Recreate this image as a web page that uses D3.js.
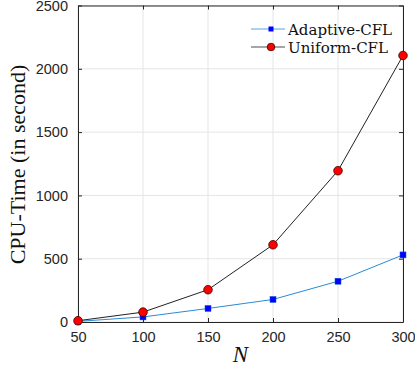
<!DOCTYPE html>
<html>
<head>
<meta charset="utf-8">
<script src="https://cdn.jsdelivr.net/npm/d3@7"></script>
<style>
  body { margin: 0; background: #fff; }
  svg { display: block; }
</style>
</head>
<body>
<div id="chart"></div>
<script>
// data
var nValues = [50, 100, 150, 200, 250, 300];
var adaptiveCFL = [5, 40, 107, 178, 322, 530];
var uniformCFL = [10, 78, 255, 610, 1195, 2105];
var xTicks = [50, 100, 150, 200, 250, 300];
var yTicks = [0, 500, 1000, 1500, 2000, 2500];
var seriesNames = ["Adaptive-CFL", "Uniform-CFL"];

var W = 415, H = 369;
var margin = {top: 5.5, right: 12, bottom: 47, left: 78};
var width = W - margin.left - margin.right,
    height = H - margin.top - margin.bottom;

var svg = d3.select("#chart").append("svg")
    .attr("width", W).attr("height", H);

var g = svg.append("g")
    .attr("transform", "translate(" + margin.left + "," + margin.top + ")");

var x = d3.scaleLinear().domain([50, 300]).range([0, width]);
var y = d3.scaleLinear().domain([0, 2500]).range([height, 0]);

// grid
g.append("g").selectAll("line").data(xTicks).join("line")
    .attr("x1", d => x(d)).attr("x2", d => x(d))
    .attr("y1", 0).attr("y2", height)
    .attr("stroke", "#e5e5e5").attr("stroke-width", 1);
g.append("g").selectAll("line").data(yTicks).join("line")
    .attr("y1", d => y(d)).attr("y2", d => y(d))
    .attr("x1", 0).attr("x2", width)
    .attr("stroke", "#e5e5e5").attr("stroke-width", 1);

// axes, ticks pointing inward
var axisColor = "#262626";
var fmt = d3.format("d");
var xAxis = g.append("g")
    .attr("transform", "translate(0," + height + ")")
    .call(d3.axisBottom(x).tickValues(xTicks).tickFormat(fmt).tickSize(-4).tickPadding(10).tickSizeOuter(0));
var yAxis = g.append("g")
    .call(d3.axisLeft(y).tickValues(yTicks).tickFormat(fmt).tickSize(-4).tickPadding(10).tickSizeOuter(0));
var xTop = g.append("g")
    .call(d3.axisTop(x).tickValues(xTicks).tickSize(-4).tickFormat("").tickSizeOuter(0));
var yRight = g.append("g")
    .attr("transform", "translate(" + width + ",0)")
    .call(d3.axisRight(y).tickValues(yTicks).tickSize(-4).tickFormat("").tickSizeOuter(0));

[xAxis, yAxis, xTop, yRight].forEach(function(a) {
  a.selectAll("path, line").attr("stroke", axisColor);
  a.selectAll("text")
    .attr("fill", axisColor)
    .style("font-family", "'Liberation Sans', Arial, sans-serif")
    .style("font-size", "14.5px");
});

// lines
var line = d3.line().x((d, i) => x(nValues[i])).y(d => y(d));

g.append("path").datum(adaptiveCFL)
    .attr("fill", "none").attr("stroke", "#2b8ad4").attr("stroke-width", 1)
    .attr("d", line);
g.append("path").datum(uniformCFL)
    .attr("fill", "none").attr("stroke", "#222").attr("stroke-width", 1)
    .attr("d", line);

// markers
g.append("g").selectAll("rect").data(adaptiveCFL).join("rect")
    .attr("x", (d, i) => x(nValues[i]) - 3)
    .attr("y", d => y(d) - 3)
    .attr("width", 6).attr("height", 6)
    .attr("fill", "#0000ff").attr("stroke", "#1060d0").attr("stroke-width", 0.5);
g.append("g").selectAll("circle").data(uniformCFL).join("circle")
    .attr("cx", (d, i) => x(nValues[i]))
    .attr("cy", d => y(d))
    .attr("r", 4.3)
    .attr("fill", "#ff0000").attr("stroke", "#3a0000").attr("stroke-width", 0.8);

// legend
var legend = svg.append("g");
var legY = [29, 47];
legend.append("line").attr("x1", 251).attr("x2", 285).attr("y1", legY[0]).attr("y2", legY[0])
    .attr("stroke", "#8ec3ea").attr("stroke-width", 1.5);
legend.append("rect").attr("x", 268.5).attr("y", legY[0] - 2.5).attr("width", 5).attr("height", 5)
    .attr("fill", "#0000ff");
legend.append("line").attr("x1", 251).attr("x2", 285).attr("y1", legY[1]).attr("y2", legY[1])
    .attr("stroke", "#888").attr("stroke-width", 1.5);
legend.append("circle").attr("cx", 271).attr("cy", legY[1]).attr("r", 3.8)
    .attr("fill", "#ff0000").attr("stroke", "#3a0000").attr("stroke-width", 0.8);
legend.selectAll("text").data(seriesNames).join("text")
    .attr("x", 288).attr("y", (d, i) => legY[i] + 5.5)
    .style("font-family", "'DejaVu Serif', 'Liberation Serif', serif")
    .style("font-size", "15px")
    .attr("fill", "#111")
    .text(d => d);

// axis labels
svg.append("text")
    .attr("transform", "translate(25," + 164.5 + ") rotate(-90)")
    .attr("text-anchor", "middle")
    .style("font-family", "'Liberation Serif', 'DejaVu Serif', serif")
    .style("font-size", "22px")
    .attr("fill", "#111")
    .text("CPU-Time (in second)");
svg.append("text")
    .attr("x", margin.left + width / 2)
    .attr("y", 362)
    .attr("text-anchor", "middle")
    .style("font-family", "'Liberation Serif', 'DejaVu Serif', serif")
    .style("font-style", "italic")
    .style("font-size", "23px")
    .attr("fill", "#111")
    .text("N");
</script>
</body>
</html>
